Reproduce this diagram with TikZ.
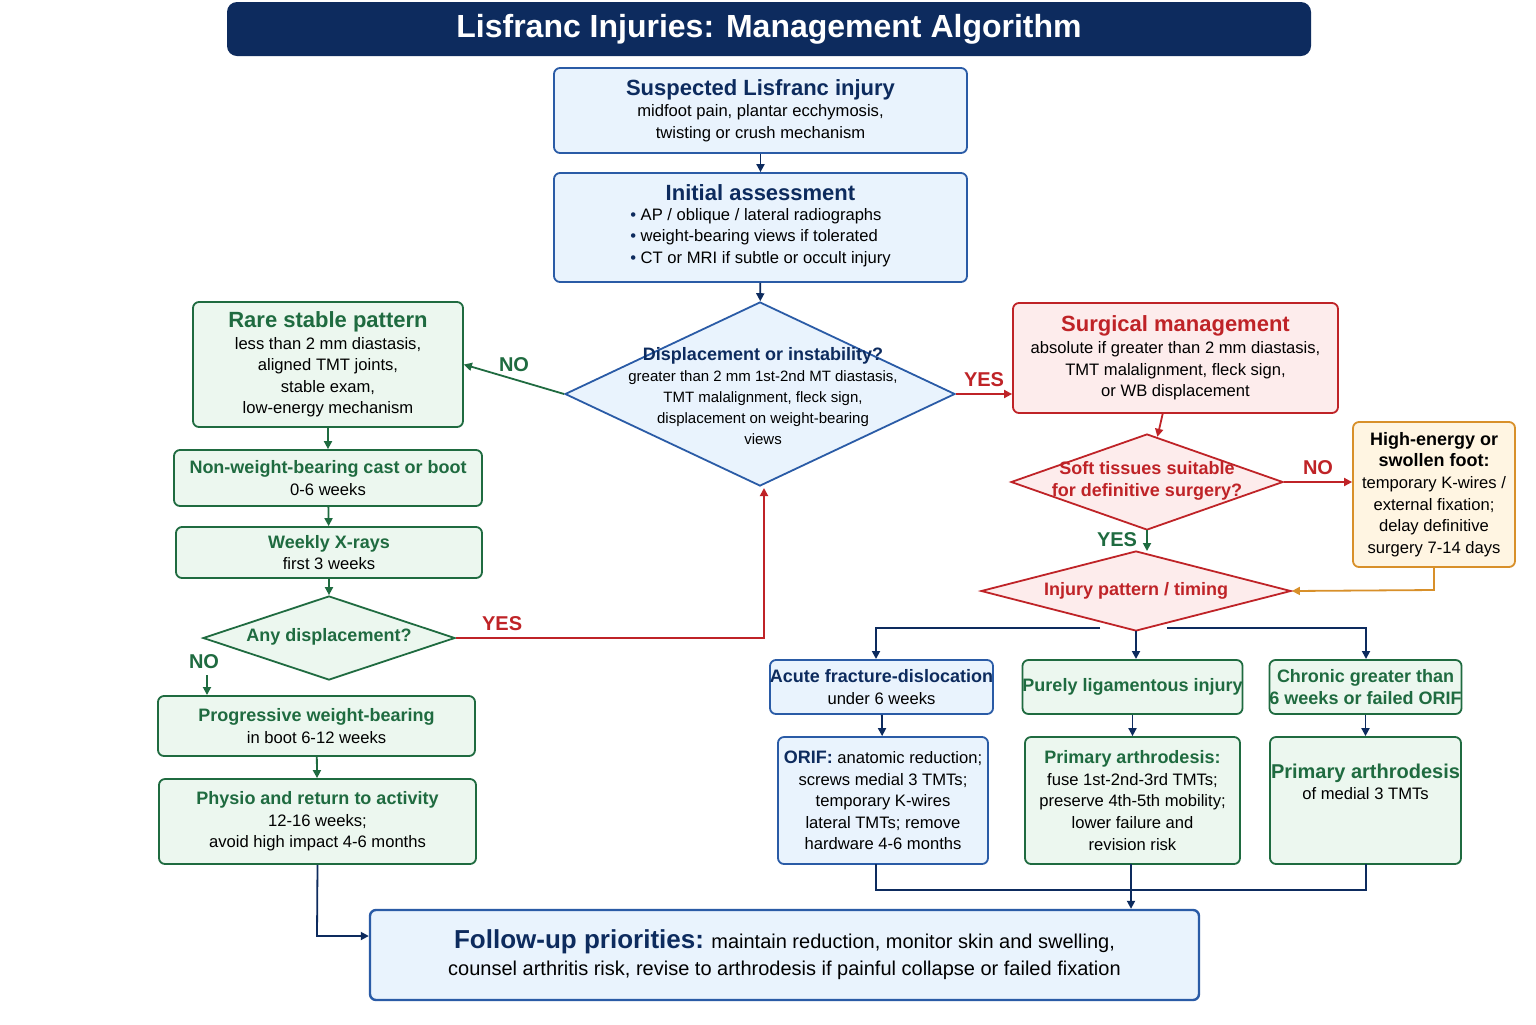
\documentclass[tikz,border=0pt]{standalone}
\usepackage{fontspec}
\setmainfont{Liberation Sans}
\usetikzlibrary{shapes.geometric,arrows.meta}
\definecolor{navy}{HTML}{0D2B5E}
\definecolor{bfill}{HTML}{E9F3FD}
\definecolor{bline}{HTML}{2A5BA6}
\definecolor{gfill}{HTML}{ECF7EF}
\definecolor{gline}{HTML}{1F6B40}
\definecolor{rfill}{HTML}{FDECEC}
\definecolor{rline}{HTML}{BF2327}
\definecolor{ofill}{HTML}{FFF5E2}
\definecolor{oline}{HTML}{D8902A}
\newcommand\hgf{\bfseries\fontsize{9}{11}\selectfont}
\begin{document}
\begin{tikzpicture}[x=0.5pt,y=-0.5pt,
 box/.style={draw,rounded corners=3pt,line width=0.9pt,align=center,inner sep=0pt,font=\fontsize{8.3}{10.8}\selectfont},
 bbox/.style={box,draw=bline,fill=bfill,text=black},
 gbox/.style={box,draw=gline,fill=gfill,text=black},
 rbox/.style={box,draw=rline,fill=rfill,text=black},
 obox/.style={box,draw=oline,fill=ofill,text=black},
 dia/.style={diamond,draw,line width=0.9pt,align=center,inner sep=0pt,font=\fontsize{7.5}{10}\selectfont},
 arr/.style={-{Triangle[length=4pt,width=4pt]},line width=0.9pt},
 lab/.style={font=\bfseries\fontsize{10}{12}\selectfont},
 hg/.style={font=\bfseries\fontsize{9}{11}\selectfont}]
\useasboundingbox (0,0) rectangle (1536,1024);
\fill[white] (0,0) rectangle (1536,1024);
\node[fill=navy,rounded corners=5pt,minimum width=542pt,minimum height=27pt,text=white,font=\bfseries\fontsize{16}{18}\selectfont] (title) at (769,29) {Lisfranc Injuries: Management Algorithm};

\node[bbox,minimum width=206.5pt,minimum height=42.5pt] (sus) at (760.5,110.5) {{\color{navy}\bfseries\fontsize{11}{13}\selectfont Suspected Lisfranc injury}\\midfoot pain, plantar ecchymosis,\\twisting or crush mechanism};
\node[bbox,minimum width=206.5pt,minimum height=54.5pt] (ini) at (760.5,227.5) {{\color{navy}\bfseries\fontsize{11}{13}\selectfont Initial assessment}\\[1pt]\begin{tabular}{@{}l@{}}{\color{navy}\textbullet} AP / oblique / lateral radiographs\\{\color{navy}\textbullet} weight-bearing views if tolerated\\{\color{navy}\textbullet} CT or MRI if subtle or occult injury\end{tabular}};
\node[dia,draw=bline,fill=bfill,minimum width=195pt,minimum height=92pt] (dis) at (760,394) {};
\node[align=center,font=\fontsize{7.5}{10.5}\selectfont] at (763,396) {{\color{navy}\bfseries\fontsize{9}{11}\selectfont Displacement or instability?}\\greater than 2 mm 1st-2nd MT diastasis,\\TMT malalignment, fleck sign,\\displacement on weight-bearing\\views};

\node[gbox,minimum width=135pt,minimum height=62.5pt] (rare) at (328,364.5) {{\color{gline}\bfseries\fontsize{11}{13}\selectfont Rare stable pattern}\\less than 2 mm diastasis,\\aligned TMT joints,\\stable exam,\\low-energy mechanism};
\node[gbox,minimum width=154pt,minimum height=28pt] (nwb) at (328,478) {{\color{gline}\hgf Non-weight-bearing cast or boot}\\0-6 weeks};
\node[gbox,minimum width=153pt,minimum height=25.5pt] (wk) at (329,552.5) {{\color{gline}\hgf Weekly X-rays}\\first 3 weeks};
\node[dia,draw=gline,fill=gfill,minimum width=126pt,minimum height=42pt] (any) at (329,638) {};
\node[text=gline,hg] at (329,637) {Any displacement?};
\node[gbox,minimum width=158.5pt,minimum height=30pt] (prog) at (316.5,726) {{\color{gline}\hgf Progressive weight-bearing}\\in boot 6-12 weeks};
\node[gbox,minimum width=158.5pt,minimum height=42.5pt] (phy) at (317.5,821.5) {{\color{gline}\hgf Physio and return to activity}\\12-16 weeks;\\avoid high impact 4-6 months};

\node[rbox,minimum width=162.5pt,minimum height=55pt] (sur) at (1175.5,358) {{\color{rline}\bfseries\fontsize{11}{13}\selectfont Surgical management}\\absolute if greater than 2 mm diastasis,\\TMT malalignment, fleck sign,\\or WB displacement};
\node[dia,draw=rline,fill=rfill,minimum width=136pt,minimum height=48pt] (soft) at (1147,482) {};
\node[text=rline,hg,align=center] at (1147,481) {Soft tissues suitable\\for definitive surgery?};
\node[obox,minimum width=81pt,minimum height=72.5pt] (high) at (1434,494.5) {{\hgf High-energy or}\\{\hgf swollen foot:}\\temporary K-wires /\\external fixation;\\delay definitive\\surgery 7-14 days};
\node[dia,draw=rline,fill=rfill,minimum width=155pt,minimum height=40pt] (inj) at (1136,591) {};
\node[text=rline,hg] at (1136,591) {Injury pattern / timing};

\node[bbox,minimum width=103.5pt,minimum height=27pt] (acu) at (881.5,687) {{\color{navy}\hgf Acute fracture-dislocation}\\under 6 weeks};
\node[gbox,minimum width=107.5pt,minimum height=27pt] (lig) at (1132.5,687) {{\color{gline}\hgf Purely ligamentous injury}};
\node[gbox,minimum width=95.5pt,minimum height=27pt,text=gline,hg] (chr) at (1365.5,687) {Chronic greater than\\6 weeks or failed ORIF};
\node[bbox,minimum width=105pt,minimum height=63.5pt] (orif) at (883,800.5) {{\color{navy}\hgf ORIF:} anatomic reduction;\\screws medial 3 TMTs;\\temporary K-wires\\lateral TMTs; remove\\hardware 4-6 months};
\node[gbox,minimum width=107.5pt,minimum height=63.5pt] (pa) at (1132.5,800.5) {{\color{gline}\hgf Primary arthrodesis:}\\fuse 1st-2nd-3rd TMTs;\\preserve 4th-5th mobility;\\lower failure and\\revision risk};
\node[gbox,minimum width=95.5pt,minimum height=63.5pt] (pm) at (1365.5,800.5) {};
\node[align=center,font=\fontsize{8.3}{10.8}\selectfont] at (1365.5,782) {{\color{gline}\bfseries\fontsize{10}{12}\selectfont Primary arthrodesis}\\of medial 3 TMTs};

\node[bbox,minimum width=414.5pt,minimum height=45pt,line width=1.2pt,font=\fontsize{10}{13.5}\selectfont] (fu) at (784.5,955) {{\color{navy}\bfseries\fontsize{13}{15}\selectfont Follow-up priorities:} maintain reduction, monitor skin and swelling,\\counsel arthritis risk, revise to arthrodesis if painful collapse or failed fixation};

% connectors
\draw[arr,navy] (sus) -- (ini);
\draw[arr,navy] (ini) -- (dis);
\draw[arr,gline] (dis.west) -- (rare.east) node[midway,above,lab,text=gline] {NO};
\draw[arr,rline] (dis.east) -- (sur.west |- dis.east) node[midway,above,lab,text=rline] {YES};
\draw[arr,gline] (rare) -- (nwb);
\draw[arr,gline] (nwb) -- (wk);
\draw[arr,gline] (wk) -- (any);
\draw[arr,rline] (any.east) -- (764,638) node[pos=0.15,above,lab,text=rline] {YES} -- (764,488);
\coordinate (n1) at (207,675);
\node[lab,text=gline] at (204,662) {NO};
\draw[arr,gline] (n1) -- (207,695);
\draw[arr,gline] (prog) -- (phy);
\draw[arr,navy] (phy.south) -- (317,936) -- (fu.west |- 0,936);
\draw[arr,rline] (sur) -- (soft);
\draw[arr,rline] (soft.east) -- (high.west |- soft.east) node[midway,above,lab,text=rline] {NO};
\draw[arr,gline] (1147,530) -- (1147,551);
\node[lab,text=gline] at (1117,540) {YES};
\draw[arr,oline] (high.south) -- (1434,590) -- (inj.east);
\draw[arr,navy] (1100,628) -- (876,628) -- (876,659);
\draw[arr,navy] (1136,631) -- (1136,659);
\draw[arr,navy] (1167,628) -- (1366,628) -- (1366,659);
\draw[arr,navy] (acu) -- (orif);
\draw[arr,navy] (lig) -- (pa);
\draw[arr,navy] (chr) -- (pm);
\draw[navy,line width=0.9pt] (876,864) -- (876,890) -- (1366,890) -- (1366,864);
\draw[navy,line width=0.9pt] (1131,864) -- (1131,890);
\draw[arr,navy] (1131,890) -- (fu.north -| 1131,0);
\end{tikzpicture}
\end{document}
